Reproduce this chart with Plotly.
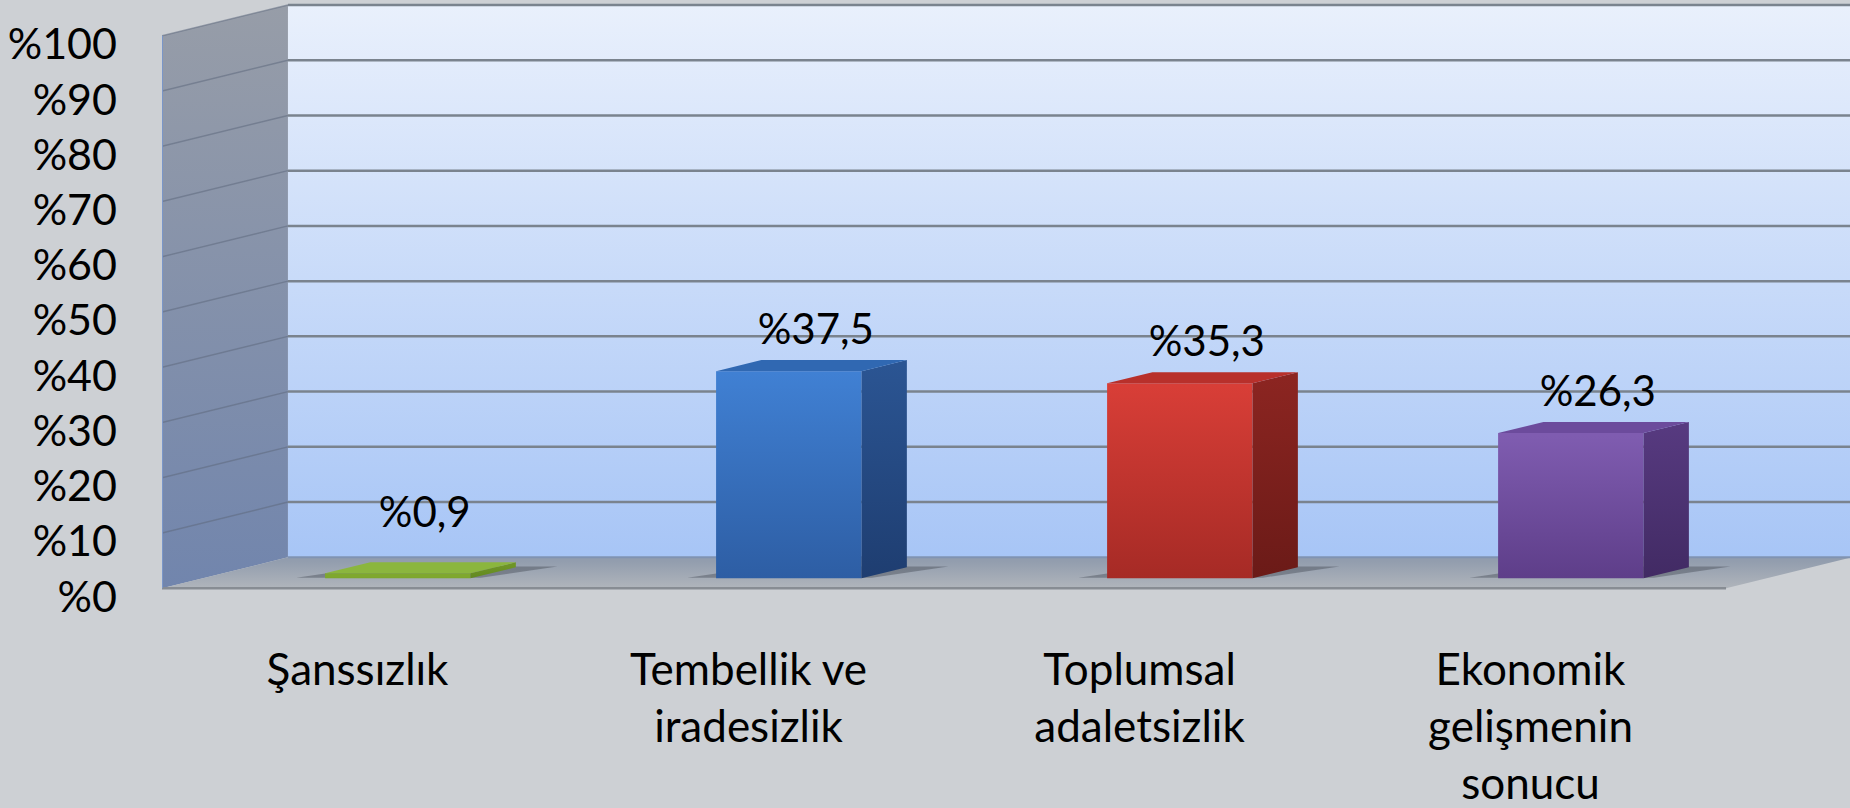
import plotly.graph_objects as go

# ---------------- data ----------------
categories = ["Şanssızlık", "Tembellik ve<br>iradesizlik", "Toplumsal<br>adaletsizlik",
              "Ekonomik<br>gelişmenin<br>sonucu"]
values = [0.9, 37.5, 35.3, 26.3]
value_labels = ["%0,9", "%37,5", "%35,3", "%26,3"]
y_ticks = [0, 10, 20, 30, 40, 50, 60, 70, 80, 90, 100]
y_tick_labels = ["%0", "%10", "%20", "%30", "%40", "%50", "%60", "%70", "%80", "%90", "%100"]

# face colours per bar: (front bottom, front top, side bottom, side top, top face)
bar_colors = [
    ("#6C9624", "#7FA82E", "#5E8520", "#6E9526", "#8BB63E"),
    ("#2D5DA3", "#4080D3", "#1E3D70", "#2B5593", "#3068B2"),
    ("#A52A25", "#D83E37", "#6A1A17", "#8C2521", "#B8302B"),
    ("#5D3D88", "#7F5CB0", "#412A63", "#573A80", "#6C4B9C"),
]

FONT = "Lato, 'Open Sans', sans-serif"
BG = "#CDD0D4"

# ---------------- oblique projection ----------------
DX = 0.322   # x shift (category units) per unit depth
DY = 5.58    # y shift (percent units) per unit depth
X_LEFT, X_RIGHT = -0.5, 3.5
D_BAR0, D_BAR1 = 0.32, 0.68
HALF_W = 0.186

Y_RANGE = [-4.676, 106.47]
LABEL_SHIFT = 1.53   # tick labels sit slightly below their gridline


def P(x, v, d):
    return x + DX * d, v + DY * d


def poly(points):
    xs = [p[0] for p in points] + [points[0][0]]
    ys = [p[1] for p in points] + [points[0][1]]
    return xs, ys


fig = go.Figure()


def add_face(points, c_bottom, c_top=None):
    xs, ys = poly(points)
    kw = dict(x=xs, y=ys, mode="lines", fill="toself", hoverinfo="skip", showlegend=False,
              line=dict(width=0, color="rgba(0,0,0,0)"))
    if c_top is None:
        kw["fillcolor"] = c_bottom
    else:
        kw["fillgradient"] = dict(type="vertical", colorscale=[[0, c_bottom], [1, c_top]],
                                  start=min(ys), stop=max(ys))
    fig.add_trace(go.Scatter(**kw))


# back wall
add_face([P(X_LEFT, 0, 1), P(X_RIGHT, 0, 1), P(X_RIGHT, 100, 1), P(X_LEFT, 100, 1)],
         "#A7C5F6", "#E9F0FC")
# left side wall
add_face([P(X_LEFT, 0, 0), P(X_LEFT, 0, 1), P(X_LEFT, 100, 1), P(X_LEFT, 100, 0)],
         "#7185AD", "#979DA8")
# floor
add_face([P(X_LEFT, 0, 0), P(X_RIGHT, 0, 0), P(X_RIGHT, 0, 1), P(X_LEFT, 0, 1)],
         "#B4B8BD", "#929DAE")

# gridlines on back wall and side wall
gx, gy, sx, sy = [], [], [], []
for v in y_ticks[1:]:
    a, b = P(X_LEFT, v, 1), P(X_RIGHT, v, 1)
    gx += [a[0], b[0], None]
    gy += [a[1], b[1], None]
    c = P(X_LEFT, v, 0)
    sx += [c[0], a[0], None]
    sy += [c[1], a[1], None]
fig.add_trace(go.Scatter(x=gx, y=gy, mode="lines", line=dict(color="#7A838E", width=2.5),
                         hoverinfo="skip", showlegend=False))
fig.add_trace(go.Scatter(x=sx, y=sy, mode="lines", line=dict(color="rgba(95,105,125,0.55)", width=1.5),
                         hoverinfo="skip", showlegend=False))

# frame edges
e1, e2 = P(X_LEFT, 0, 0), P(X_RIGHT, 0, 0)
e3 = P(X_LEFT, 100, 0)
fig.add_trace(go.Scatter(x=[e1[0], e2[0]], y=[e1[1], e2[1]], mode="lines",
                         line=dict(color="#878C93", width=2.5), hoverinfo="skip", showlegend=False))
fig.add_trace(go.Scatter(x=[e1[0], e3[0]], y=[e1[1], e3[1]], mode="lines",
                         line=dict(color="#7A96C8", width=2), hoverinfo="skip", showlegend=False))
b1, b2 = P(X_LEFT, 0, 1), P(X_RIGHT, 0, 1)
fig.add_trace(go.Scatter(x=[b1[0], b2[0]], y=[b1[1], b2[1]], mode="lines",
                         line=dict(color="#8093B2", width=2), hoverinfo="skip", showlegend=False))

# bars
for i, (v, cols) in enumerate(zip(values, bar_colors)):
    xl, xr = i - HALF_W, i + HALF_W
    # soft shadow on the floor
    add_face([P(xl - 0.08, 0, D_BAR0 + 0.02), P(xr + 0.02, 0, D_BAR0 + 0.02),
              P(xr + 0.1, 0, D_BAR1 + 0.02), P(xl, 0, D_BAR1 + 0.02)],
             "rgba(55,60,72,0.38)")
    f_b, f_t, s_b, s_t, top = cols
    add_face([P(xl, 0, D_BAR0), P(xr, 0, D_BAR0), P(xr, v, D_BAR0), P(xl, v, D_BAR0)], f_b, f_t)
    add_face([P(xr, 0, D_BAR0), P(xr, 0, D_BAR1), P(xr, v, D_BAR1), P(xr, v, D_BAR0)], s_b, s_t)
    add_face([P(xl, v, D_BAR0), P(xr, v, D_BAR0), P(xr, v, D_BAR1), P(xl, v, D_BAR1)], top)

# value labels
lx = [i + 0.172 for i in range(len(values))]
ly = [max(v, 4.5) + 8.55 for v in values]
fig.add_trace(go.Scatter(x=lx, y=ly, mode="text", text=value_labels, textposition="middle center",
                         textfont=dict(family=FONT, size=42, color="#000000"),
                         hoverinfo="skip", showlegend=False))

# empty trace that carries the tick-label axis
fig.add_trace(go.Scatter(x=[None], y=[None], yaxis="y2", mode="lines",
                         hoverinfo="skip", showlegend=False))

fig.update_layout(
    width=1850, height=808,
    margin=dict(l=162, r=0, t=0, b=190),
    paper_bgcolor=BG,
    plot_bgcolor="rgba(0,0,0,0)",
    showlegend=False,
    xaxis=dict(range=[-0.5, 3.817], showgrid=False, zeroline=False, showline=False,
               tickmode="array", tickvals=list(range(len(categories))), ticktext=categories,
               ticks="", ticklabelstandoff=26,
               tickfont=dict(family=FONT, size=44, color="#000000"), fixedrange=True),
    yaxis=dict(range=Y_RANGE, showgrid=False, zeroline=False, showline=False,
               showticklabels=False, ticks="", fixedrange=True),
    yaxis2=dict(range=[Y_RANGE[0] + LABEL_SHIFT, Y_RANGE[1] + LABEL_SHIFT], overlaying="y",
                side="left", showgrid=False, zeroline=False, showline=False,
                tickmode="array", tickvals=y_ticks, ticktext=y_tick_labels,
                ticks="", ticklabelstandoff=44,
                tickfont=dict(family=FONT, size=43, color="#000000"), fixedrange=True),
)

fig.write_html(
    "out.html",
    config={"displayModeBar": False},
    post_script="document.body.style.margin='0';document.body.style.background='%s';"
                "document.documentElement.style.overflow='hidden';" % BG,
)
